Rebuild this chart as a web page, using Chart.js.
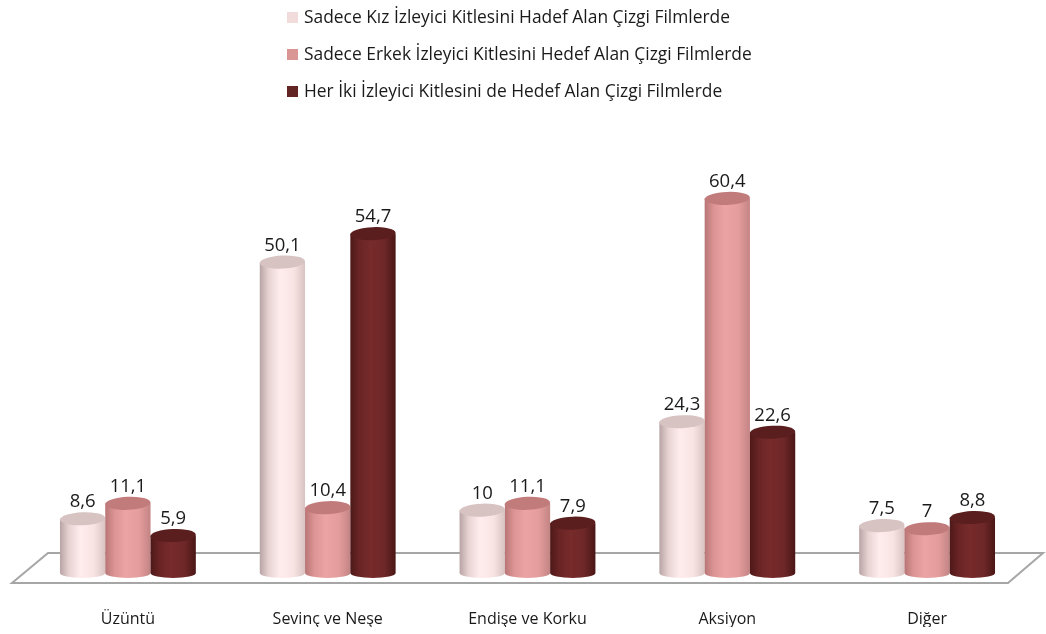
<!DOCTYPE html>
<html>
<head>
<meta charset="utf-8">
<script src="https://cdn.jsdelivr.net/npm/chart.js@4.4.1/dist/chart.umd.min.js"></script>
<style>
  html, body { margin: 0; padding: 0; background: #fff; }
  #wrap { position: relative; width: 1046px; height: 634px; }
  #legend { position: absolute; left: 287px; top: 1px; font-family: "Open Sans", Lato, sans-serif; font-size: 17.4px; color: #1a1a1a; }
  #legend .item { height: 37px; line-height: 30px; white-space: nowrap; }
  #legend .sw { display: inline-block; width: 11px; height: 11px; margin-right: 6px; vertical-align: 0px; }
  canvas { position: absolute; left: 0; top: 0; }
</style>
</head>
<body>
<div id="wrap">
  <canvas id="c" width="1046" height="634"></canvas>
  <div id="legend"></div>
</div>
<script>
const categories = ["Üzüntü", "Sevinç ve Neşe", "Endişe ve Korku", "Aksiyon", "Diğer"];
const seriesNames = [
  "Sadece Kız İzleyici Kitlesini Hadef Alan Çizgi Filmlerde",
  "Sadece Erkek İzleyici Kitlesini Hedef Alan Çizgi Filmlerde",
  "Her İki İzleyici Kitlesini de Hedef Alan Çizgi Filmlerde"
];
const girlsOnly = [8.6, 50.1, 10, 24.3, 7.5];
const boysOnly = [11.1, 10.4, 11.1, 60.4, 7];
const bothAudiences = [5.9, 54.7, 7.9, 22.6, 8.8];

const swatchColors = ["#F2DCDB", "#D99694", "#632523"];
const bodyStops = [
  ["#B8A4A4", "#E8D3D3", "#FFECEC", "#F9E4E4", "#D8C2C2"],
  ["#B87575", "#DC9494", "#EBA3A3", "#E49C9C", "#C38484"],
  ["#4E1919", "#6A2424", "#772B2B", "#6E2727", "#4A1616"]
];
const topColors = ["#D8C3C3", "#C27B7B", "#5A1E1E"];
const FONT = '"Open Sans", Lato, sans-serif';

const cylinderPlugin = {
  id: 'cylinders',
  beforeDatasetsDraw(chart) {
    const ctx = chart.ctx;
    const xs = chart.scales.x;
    const base = chart.scales.y.getPixelForValue(0);
    const left = xs.left, right = xs.right;
    ctx.save();
    ctx.beginPath();
    ctx.moveTo(left + 20, base - 19);
    ctx.lineTo(right + 16, base - 19);
    ctx.lineTo(right - 19, base + 11);
    ctx.lineTo(left - 16, base + 11);
    ctx.closePath();
    ctx.fillStyle = '#ffffff';
    ctx.fill();
    ctx.strokeStyle = '#A6A6A6';
    ctx.lineWidth = 2;
    ctx.stroke();
    ctx.restore();
  },
  afterDatasetsDraw(chart) {
    const ctx = chart.ctx;
    chart.data.datasets.forEach((ds, di) => {
      const meta = chart.getDatasetMeta(di);
      meta.data.forEach((bar, i) => {
        const w = bar.width;
        const x0 = bar.x - w / 2, x1 = bar.x + w / 2;
        const top = bar.y, bot = bar.base + 1;
        const ry = 6.5, rx = w / 2;
        const g = ctx.createLinearGradient(x0, 0, x1, 0);
        const st = bodyStops[di];
        g.addColorStop(0, st[0]);
        g.addColorStop(0.2, st[1]);
        g.addColorStop(0.45, st[2]);
        g.addColorStop(0.75, st[3]);
        g.addColorStop(1, st[4]);
        ctx.save();
        ctx.beginPath();
        ctx.moveTo(x0, top);
        ctx.lineTo(x0, bot);
        ctx.ellipse(bar.x, bot, rx, ry - 1.5, 0, Math.PI, 0, true);
        ctx.lineTo(x1, top);
        ctx.closePath();
        ctx.fillStyle = g;
        ctx.fill();
        ctx.beginPath();
        ctx.ellipse(bar.x, top, rx, ry, -0.04, 0, Math.PI * 2);
        ctx.fillStyle = topColors[di];
        ctx.fill();
        ctx.fillStyle = '#1a1a1a';
        ctx.font = '18.5px ' + FONT;
        ctx.textAlign = 'center';
        ctx.textBaseline = 'bottom';
        const v = ds.data[i];
        ctx.fillText(String(v).replace('.', ','), bar.x, top - ry - 1);
        ctx.restore();
      });
    });
  }
};

const datasets = [girlsOnly, boysOnly, bothAudiences].map((d, k) => ({
  label: seriesNames[k],
  data: d,
  backgroundColor: 'rgba(0,0,0,0)',
  borderWidth: 0,
  categoryPercentage: 0.68,
  barPercentage: 1.0
}));

new Chart(document.getElementById('c'), {
  type: 'bar',
  data: { labels: categories, datasets },
  options: {
    responsive: false,
    animation: false,
    layout: { padding: { top: 139, left: 28, right: 19, bottom: 7 } },
    plugins: { legend: { display: false }, tooltip: { enabled: false } },
    scales: {
      y: { display: false, min: 0, max: 70 },
      x: {
        grid: { display: false },
        border: { display: false },
        afterFit: (s) => { s.height = 55; },
        ticks: { color: '#1a1a1a', font: { family: FONT, size: 16 }, padding: 30, maxRotation: 0 }
      }
    }
  },
  plugins: [cylinderPlugin]
});

const lg = document.getElementById('legend');
seriesNames.forEach((n, k) => {
  const it = document.createElement('div');
  it.className = 'item';
  it.innerHTML = '<span class="sw" style="background:' + swatchColors[k] + '"></span>' + n;
  lg.appendChild(it);
});
</script>
</body>
</html>
